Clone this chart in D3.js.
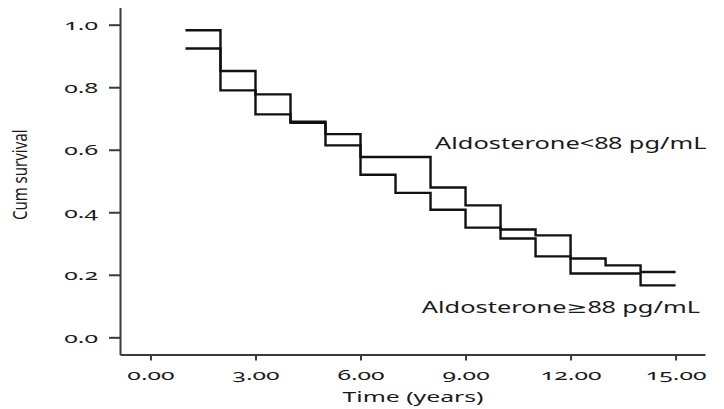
<!DOCTYPE html>
<html>
<head>
<meta charset="utf-8">
<script src="https://cdn.jsdelivr.net/npm/d3@7"></script>
<style>
  html, body { margin: 0; padding: 0; background: #fff; }
  svg text { font-family: "Noto Sans", "DejaVu Sans", sans-serif; fill: #1a1a1a; font-variant-numeric: oldstyle-nums; }
</style>
</head>
<body>
<div id="chart"></div>
<script>
// Kaplan-Meier steps: survival after the event at each time (years)
const times = [1, 2, 3, 4, 5, 6, 7, 8, 9, 10, 11, 12, 13, 14, 15];
const survLow = [0.982, 0.852, 0.777, 0.690, 0.650, 0.577, 0.577, 0.479, 0.422, 0.345, 0.326, 0.252, 0.230, 0.209, 0.209];
const survHigh = [0.924, 0.790, 0.713, 0.686, 0.614, 0.520, 0.462, 0.408, 0.351, 0.316, 0.259, 0.204, 0.204, 0.166, 0.166];
const groupLabels = ['Aldosterone<88 pg/mL', 'Aldosterone\u226588 pg/mL'];
const xTicks = [0, 3, 6, 9, 12, 15];
const yTicks = [0, 0.2, 0.4, 0.6, 0.8, 1.0];

const width = 724, height = 409;
const sx = 1.65; // source picture is stretched horizontally

const svg = d3.select('#chart').append('svg')
    .attr('width', width)
    .attr('height', height);

const x = d3.scaleLinear().domain([-0.87, 15.84]).range([120, 705]);
const y = d3.scaleLinear().domain([-0.055, 1.055]).range([354.5, 7.5]);

// Axes
const yAxis = svg.append('g')
    .attr('transform', `translate(${x(-0.87)},0)`)
    .call(d3.axisLeft(y).tickValues(yTicks).tickFormat(d3.format('.1f')).tickSize(11).tickSizeOuter(0));

const xAxis = svg.append('g')
    .attr('transform', `translate(0,${y(-0.055)})`)
    .call(d3.axisBottom(x).tickValues(xTicks).tickFormat(d3.format('.2f')).tickSize(6).tickSizeOuter(0));

[yAxis, xAxis].forEach(g => {
    g.attr('font-family', null);
    g.select('.domain').attr('stroke', '#3a3a3a').attr('stroke-width', 2);
    g.selectAll('.tick line').attr('stroke', '#3a3a3a').attr('stroke-width', 2);
    g.selectAll('text').attr('font-size', 15).attr('fill', '#1a1a1a');
});

yAxis.selectAll('text')
    .attr('x', 0).attr('dy', '0.32em')
    .attr('transform', `translate(-22,0) scale(${sx},1)`);

xAxis.selectAll('text')
    .attr('y', 0).attr('dy', null)
    .attr('transform', `translate(0,25) scale(${sx},1)`);

// Axis titles
svg.append('text')
    .attr('text-anchor', 'middle')
    .attr('font-size', 15)
    .attr('transform', `translate(${x(7.5)},${y(-0.055) + 47}) scale(${sx},1)`)
    .text('Time (years)');

svg.append('text')
    .attr('text-anchor', 'middle')
    .attr('font-size', 15)
    .attr('transform', `translate(27,${y(0.52)}) scale(1.3,1) rotate(-90)`)
    .text('Cum survival');

// Survival curves
const line = d3.line()
    .x(d => x(d[0]))
    .y(d => y(d[1]))
    .curve(d3.curveStepAfter);

[survLow, survHigh].forEach(s => {
    svg.append('path')
        .datum(times.map((t, i) => [t, s[i]]))
        .attr('fill', 'none')
        .attr('stroke', '#111')
        .attr('stroke-width', 2.4)
        .attr('d', line);
});

// Group labels
svg.append('text')
    .attr('font-size', 15.4)
    .attr('transform', `translate(${x(8.13)},${y(0.602)}) scale(${sx},1)`)
    .text(groupLabels[0]);

svg.append('text')
    .attr('font-size', 15.4)
    .attr('transform', `translate(${x(7.75)},${y(0.077)}) scale(${sx},1)`)
    .text(groupLabels[1]);
</script>
</body>
</html>
